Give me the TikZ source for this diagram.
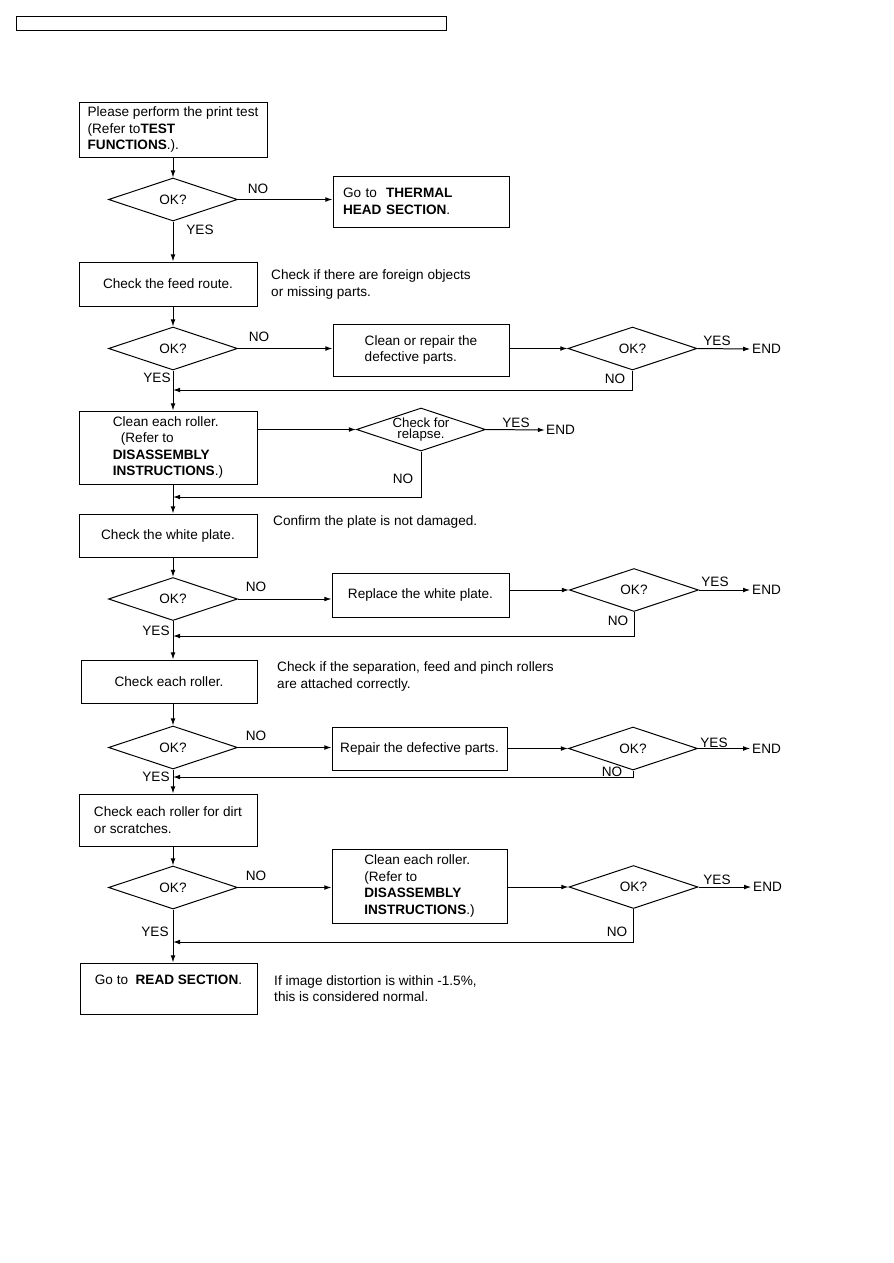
\documentclass[tikz,border=0pt]{standalone}
\usepackage{fontspec}
\setmainfont{Liberation Sans}
\usetikzlibrary{shapes.geometric, arrows.meta}
\newlength\pxu
\setlength\pxu{0.3mm}

\begin{document}
\begin{tikzpicture}[x=0.3mm, y=-0.3mm, >={Latex[length=6pt,width=4pt]},
    font=\fontsize{11.6}{14.2}\selectfont,
    box/.style 2 args={draw, line width=0.85pt, inner sep=0pt, align=left,
        minimum width=#1*\pxu, minimum height=#2*\pxu},
    dia/.style={draw, diamond, aspect=3, line width=0.85pt, inner sep=0pt,
        minimum width=129*\pxu, minimum height=43*\pxu},
    flow/.style={->, line width=0.85pt},
    lbl/.style={inner sep=0pt},
    fin/.style={anchor=west, inner sep=0pt},
    note/.style={anchor=west, align=left, inner sep=0pt}]
    \fill[white] (0,0) rectangle (893,1263);
    \useasboundingbox (0,0) rectangle (893,1263);

    % header strip
    \node[box={430}{14}] (header) at (231,23) {};

    % main column boxes
    \node[box={188}{55}] (b1) at (173,129.5) {Please perform the print test\\(Refer to\textbf{TEST}\\\textbf{FUNCTIONS}.).};
    \node[box={178}{44}] (b2) at (168,284) {Check the feed route.};
    \node[box={178}{73}] (b3) at (168,447.5) {Clean each roller.\\\hspace*{2.4mm}(Refer to\\\textbf{DISASSEMBLY}\\\textbf{INSTRUCTIONS}.)};
    \node[box={178}{43}] (b4) at (168,535.5) {Check the white plate.};
    \node[box={176}{43}] (b5) at (169,681.5) {Check each roller.};
    \node[box={178}{52}] (b6) at (168,820) {Check each roller for dirt\\or scratches.};
    \node[box={177}{51}, text height=21.5*\pxu, text depth=29.5*\pxu] (b7) at (168.5,988.5) {Go to\ \ \textbf{READ SECTION}.};

    % decisions
    \node[dia] (d1) at (173,199.5) {OK?};
    \node[dia] (d2) at (173,348.5) {OK?};
    \node[dia] (d3) at (632.5,348.5) {OK?};
    \node[dia, align=center, font=\fontsize{11.3}{9.5}\selectfont] (d4) at (421,429.5) {Check for\\relapse.};
    \node[dia] (d5) at (173,599) {OK?};
    \node[dia] (d6) at (634,590) {OK?};
    \node[dia] (d7) at (173,747.5) {OK?};
    \node[dia] (d8) at (633,748.5) {OK?};
    \node[dia] (d9) at (173,887.5) {OK?};
    \node[dia] (d10) at (633.5,887) {OK?};

    % side boxes
    \node[box={176}{51}, text width=156*\pxu] (thermal) at (421,201.5) {Go to\ \ \textbf{THERMAL}\\\textbf{HEAD SECTION}.};
    \node[box={176}{52}] (fix1) at (421,350) {Clean or repair the\\defective parts.};
    \node[box={177}{44}] (fix2) at (420.5,595) {Replace the white plate.};
    \node[box={175}{43}] (fix3) at (419.5,748.5) {Repair the defective parts.};
    \node[box={175}{74}] (fix4) at (419.5,886) {Clean each roller.\\(Refer to\\\textbf{DISASSEMBLY}\\\textbf{INSTRUCTIONS}.)};

    % notes
    \node[note] (n1) at (271,284.5) {Check if there are foreign objects\\or missing parts.};
    \node[note] (n2) at (273,522) {Confirm the plate is not damaged.};
    \node[note] (n3) at (277,676.5) {Check if the separation, feed and pinch rollers\\are attached correctly.};
    \node[note] (n4) at (274,988.5) {If image distortion is within -1.5\%,\\this is considered normal.};

    % end marks
    \node[fin] (e1) at (752,349) {END};
    \node[fin] (e2) at (546,430) {END};
    \node[fin] (e3) at (752,590) {END};
    \node[fin] (e4) at (752,748.5) {END};
    \node[fin] (e5) at (753,887) {END};

    % return points
    \coordinate (r1) at (173,390);
    \coordinate (r2) at (173,497);
    \coordinate (r3) at (173,636);
    \coordinate (r4) at (173,777);
    \coordinate (r5) at (173,942);

    % YES / NO
    \node[lbl] (no1) at (258,189) {NO};
    \node[lbl] (yes1) at (200,230) {YES};
    \node[lbl] (no2) at (259,337) {NO};
    \node[lbl] (yes2) at (157,378) {YES};
    \node[lbl] (yes3) at (717,341) {YES};
    \node[lbl] (no3) at (615,379) {NO};
    \node[lbl] (yes4) at (516,423) {YES};
    \node[lbl] (no4) at (403,479) {NO};
    \node[lbl] (no5) at (256,587) {NO};
    \node[lbl] (yes5) at (156,631) {YES};
    \node[lbl] (yes6) at (715,582) {YES};
    \node[lbl] (no6) at (618,621) {NO};
    \node[lbl] (no7) at (256,736) {NO};
    \node[lbl] (yes7) at (156,777) {YES};
    \node[lbl] (yes8) at (714,743) {YES};
    \node[lbl] (no8) at (612,772) {NO};
    \node[lbl] (no9) at (256,876) {NO};
    \node[lbl] (yes9) at (155,932) {YES};
    \node[lbl] (yes10) at (717,880) {YES};
    \node[lbl] (no10) at (617,932) {NO};

    % main flow
    \draw[flow] (b1.south -| d1.north) -- (d1.north);
    \draw[flow] (d1.south) -- (d1.south |- b2.north);
    \draw[flow] (b2.south -| d2.north) -- (d2.north);
    \draw[flow] (d2.south) -- (d2.south |- b3.north);
    \draw[flow] (b3.south -| d2.south) -- (b4.north -| d2.south);
    \draw[flow] (b4.south -| d5.north) -- (d5.north);
    \draw[flow] (d5.south) -- (d5.south |- b5.north);
    \draw[flow] (b5.south -| d7.north) -- (d7.north);
    \draw[flow] (d7.south) -- (d7.south |- b6.north);
    \draw[flow] (b6.south -| d9.north) -- (d9.north);
    \draw[flow] (d9.south) -- (d9.south |- b7.north);

    % NO branches
    \draw[flow] (d1.east) -- (d1.east -| thermal.west);
    \draw[flow] (d2.east) -- (d2.east -| fix1.west);
    \draw[flow] (d3.west -| fix1.east) -- (d3.west);
    \draw[flow] (d4.west -| b3.east) -- (d4.west);
    \draw[flow] (d5.east) -- (d5.east -| fix2.west);
    \draw[flow] (d6.west -| fix2.east) -- (d6.west);
    \draw[flow] (d7.east) -- (d7.east -| fix3.west);
    \draw[flow] (d8.west -| fix3.east) -- (d8.west);
    \draw[flow] (d9.east) -- (d9.east -| fix4.west);
    \draw[flow] (d10.west -| fix4.east) -- (d10.west);

    % YES to END
    \draw[flow] (d3.east) -- ([xshift=-1.5pt]e1.west);
    \draw[flow] (d4.east) -- ([xshift=-1pt]e2.west);
    \draw[flow] (d6.east) -- ([xshift=-1.5pt]e3.west);
    \draw[flow] (d8.east) -- ([xshift=-1.5pt]e4.west);
    \draw[flow] (d10.east) -- ([xshift=-1.5pt]e5.west);

    % loops back
    \draw[flow] (d3.south) |- (r1);
    \draw[flow] (d4.south) |- (r2);
    \draw[flow] (d6.south) |- (r3);
    \draw[flow] (d8.south) |- (r4);
    \draw[flow] (d10.south) |- (r5);
\end{tikzpicture}
\end{document}
